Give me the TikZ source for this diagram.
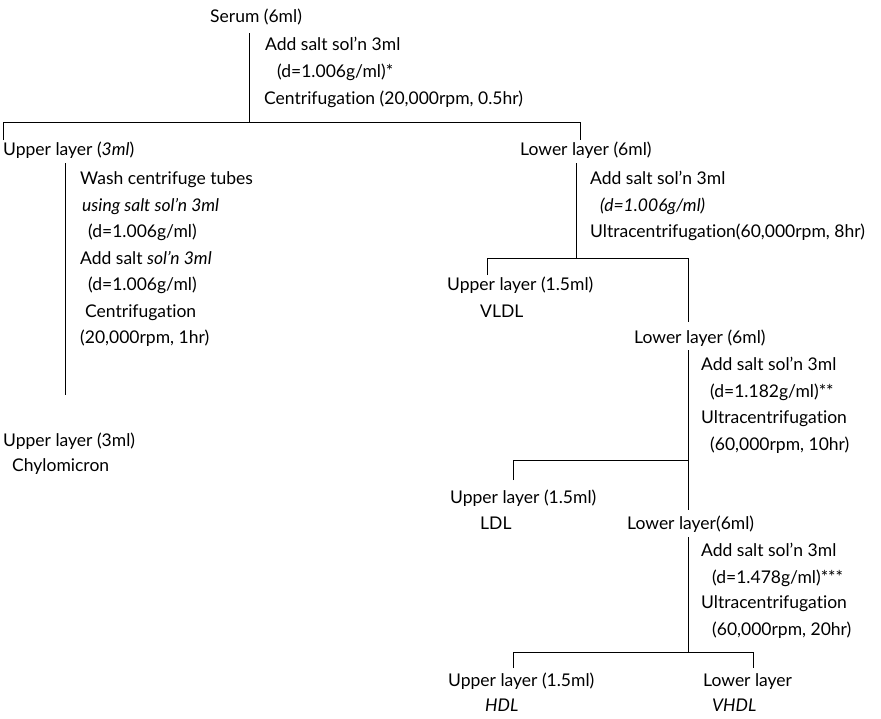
\documentclass[tikz,border=0pt]{standalone}
\usepackage{fontspec}
\setmainfont{Lato}[Ligatures={CommonOff,RareOff}]
\begin{document}
\begin{tikzpicture}[x=1pt,y=-1pt,
  t/.style={anchor=base west, inner sep=0pt, font=\fontsize{17.5}{20}\selectfont},
  ln/.style={line width=0.7pt, black}]
\useasboundingbox (0,0) rectangle (881,718);
% texts
\node[t] (serum) at (210,22) {Serum (6ml)};
\node[t] (b1a) at (265,50) {Add salt sol'n 3ml};
\node[t] (b1b) at (277,77) {(d=1.006g/ml)*};
\node[t] (b1c) at (264,104) {Centrifugation (20,000rpm, 0.5hr)};
\node[t] (ul1) at (3,155) {Upper layer (\textit{3ml})};
\node[t] (w1) at (80,184) {Wash centrifuge tubes};
\node[t] (w2) at (82,211) {\textit{using salt sol'n 3ml}};
\node[t] (w3) at (88,237) {(d=1.006g/ml)};
\node[t] (w4) at (80,264) {Add salt \textit{sol'n 3ml}};
\node[t] (w5) at (88,290) {(d=1.006g/ml)};
\node[t] (w6) at (85,317) {Centrifugation};
\node[t] (w7) at (80,343) {(20,000rpm, 1hr)};
\node[t] (ul2) at (3,446) {Upper layer (3ml)};
\node[t] (chy) at (12,471) {Chylomicron};
\node[t] (ll1) at (520,155) {Lower layer (6ml)};
\node[t] (r1a) at (590,184) {Add salt sol'n 3ml};
\node[t] (r1b) at (600,211) {\textit{(d=1.006g/ml)}};
\node[t] (r1c) at (590,237) {Ultracentrifugation(60,000rpm, 8hr)};
\node[t] (vl) at (447,290) {Upper layer (1.5ml)};
\node[t] (vldl) at (480,317) {VLDL};
\node[t] (ll2) at (634,343) {Lower layer (6ml)};
\node[t] (r2a) at (701,370) {Add salt sol'n 3ml};
\node[t] (r2b) at (710,397) {(d=1.182g/ml)**};
\node[t] (r2c) at (701,423) {Ultracentrifugation};
\node[t] (r2d) at (710,450) {(60,000rpm, 10hr)};
\node[t] (ul3) at (450,503) {Upper layer (1.5ml)};
\node[t] (ldl) at (480,529) {LDL};
\node[t] (ll3) at (627,529) {Lower layer(6ml)};
\node[t] (r3a) at (701,556) {Add salt sol'n 3ml};
\node[t] (r3b) at (712,583) {(d=1.478g/ml)***};
\node[t] (r3c) at (701,608) {Ultracentrifugation};
\node[t] (r3d) at (712,635) {(60,000rpm, 20hr)};
\node[t] (ul4) at (448,686) {Upper layer (1.5ml)};
\node[t] (hdl) at (485,711) {\textit{HDL}};
\node[t] (llf) at (703,686) {Lower layer};
\node[t] (vhdl) at (712,711) {\textit{VHDL}};
% junction coordinates
\coordinate (j1) at (249,122);
\coordinate (j1l) at (3,122);
\coordinate (j1r) at (580,122);
\coordinate (v1a) at (249,33);
\coordinate (lva) at (65,163);
\coordinate (lvb) at (65,395);
\coordinate (rva) at (576,163);
\coordinate (j2) at (576,258);
\coordinate (j2l) at (487,258);
\coordinate (j2r) at (688,258);
\coordinate (j2re) at (688,322);
\coordinate (v3a) at (688,350);
\coordinate (j3) at (688,460);
\coordinate (j3l) at (513,460);
\coordinate (v3b) at (688,510);
\coordinate (v4a) at (688,537);
\coordinate (j4) at (688,652);
\coordinate (j4l) at (513,652);
\coordinate (j4r) at (753,652);
% connectors
\draw[ln] (v1a) -- (j1);
\draw[ln] (j1l) ++(0,18) -- (j1l) -- (j1r) -- ++(0,18);
\draw[ln] (lva) -- (lvb);
\draw[ln] (rva) -- (j2);
\draw[ln] (j2l) ++(0,17) -- (j2l) -- (j2r) -- (j2re);
\draw[ln] (v3a) -- (v3b);
\draw[ln] (j3l) ++(0,20) -- (j3l) -- (j3);
\draw[ln] (v4a) -- (j4);
\draw[ln] (j4l) ++(0,16) -- (j4l) -- (j4r) -- ++(0,16);
\end{tikzpicture}
\end{document}
